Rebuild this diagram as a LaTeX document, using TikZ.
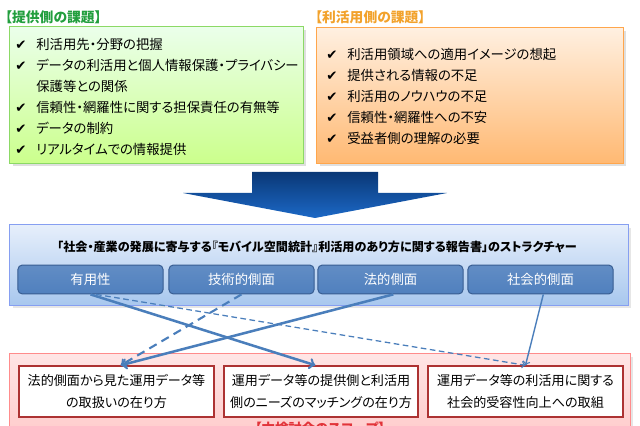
\documentclass[tikz,border=0pt]{standalone}
\usepackage{fontspec}
\newfontfamily\jp[RawFeature=+palt]{Noto Sans CJK JP}
\newfontfamily\sym{DejaVu Sans}
\usetikzlibrary{shadows}

\definecolor{provgreen}{RGB}{34,158,62}
\definecolor{useorange}{RGB}{242,162,44}
\definecolor{linkblue}{RGB}{74,126,187}
\definecolor{scopered}{RGB}{226,52,58}
\definecolor{arrowtop}{RGB}{10,56,118}
\definecolor{arrowbot}{RGB}{28,104,198}
\definecolor{panelbluetop}{RGB}{230,239,251}
\definecolor{panelbluebot}{RGB}{168,199,238}
\definecolor{aspectfill}{RGB}{80,128,190}
\definecolor{aspectline}{RGB}{55,92,145}

\newcommand{\chkmark}{{\sym\fontsize{9.5}{9.5}\selectfont ✔}\hspace{7pt}}

\begin{document}
\begin{tikzpicture}[x=0.025cm,y=-0.025cm]

\useasboundingbox (0,0) rectangle (640,426);

%Headlines
\node[anchor=west,inner sep=0pt,text=provgreen,font=\jp\bfseries\fontsize{9.8}{11}\selectfont] (provhead) at (5,17) {【提供側の課題】};
\node[anchor=west,inner sep=0pt,text=useorange,font=\jp\bfseries\fontsize{9.8}{11}\selectfont] (usehead) at (315,17) {【利活用側の課題】};

%Box of the provider side
\node[draw=green!50!olive!60,line width=0.7pt,top color=green!8!white,bottom color=green!45!yellow!45,
      minimum width=7.325cm,minimum height=3.4cm,drop shadow={opacity=0.25}] (provbox) at (156.5,95) {};
\node[anchor=north west,inner sep=0pt,align=left,font=\jp\fontsize{9.5}{14.9}\selectfont] (provlist) at (15,38)
     {\chkmark 利活用先・分野の把握\\
      \chkmark データの利活用と個人情報保護・プライバシー\\
      \phantom{\chkmark}保護等との関係\\
      \chkmark 信頼性・網羅性に関する担保責任の有無等\\
      \chkmark データの制約\\
      \chkmark リアルタイムでの情報提供};

%Box of the user side
\node[draw=orange!70,line width=0.7pt,top color=orange!12!white,bottom color=orange!55!white,
      minimum width=7.65cm,minimum height=3.375cm,drop shadow={opacity=0.25}] (usebox) at (470,95.5) {};
\node[anchor=north west,inner sep=0pt,align=left,font=\jp\fontsize{9.5}{14.9}\selectfont] (uselist) at (326,48)
     {\chkmark 利活用領域への適用イメージの想起\\
      \chkmark 提供される情報の不足\\
      \chkmark 利活用のノウハウの不足\\
      \chkmark 信頼性・網羅性への不安\\
      \chkmark 受益者側の理解の必要};

%Big arrow down
\shade[top color=arrowtop,bottom color=arrowbot] (252,172) -- (378,172) -- (378,193) -- (447,193)
      -- (315,218) -- (183,193) -- (252,193) -- cycle;

%Structure of the report
\node[draw=panelbluebot!80!blue,line width=0.7pt,top color=panelbluetop,bottom color=panelbluebot,
      minimum width=15.45cm,minimum height=2cm,drop shadow={opacity=0.2}] (report) at (319,265) {};
\node[inner sep=0pt,font=\jp\bfseries\fontsize{8.6}{10}\selectfont] (reporttitle) at (317,247)
     {「社会・産業の発展に寄与する『モバイル空間統計』利活用のあり方に関する報告書」のストラクチャー};

%Aspects
\node[draw=aspectline,line width=0.7pt,rounded corners=3pt,top color=aspectfill!90!white,bottom color=aspectfill,
      text=white,minimum width=3.625cm,minimum height=0.72cm,font=\jp\fontsize{9.5}{11}\selectfont] (useful) at (90.5,279.5) {有用性};
\node[draw=aspectline,line width=0.7pt,rounded corners=3pt,top color=aspectfill!90!white,bottom color=aspectfill,
      text=white,minimum width=3.625cm,minimum height=0.72cm,font=\jp\fontsize{9.5}{11}\selectfont] (tech) at (241.5,279.5) {技術的側面};
\node[draw=aspectline,line width=0.7pt,rounded corners=3pt,top color=aspectfill!90!white,bottom color=aspectfill,
      text=white,minimum width=3.625cm,minimum height=0.72cm,font=\jp\fontsize{9.5}{11}\selectfont] (legal) at (390.5,279.5) {法的側面};
\node[draw=aspectline,line width=0.7pt,rounded corners=3pt,top color=aspectfill!90!white,bottom color=aspectfill,
      text=white,minimum width=3.625cm,minimum height=0.72cm,font=\jp\fontsize{9.5}{11}\selectfont] (social) at (540.5,279.5) {社会的側面};

%Scope of the study group
\node[draw=red!45,line width=0.7pt,top color=red!10!white,bottom color=red!22!white,
      minimum width=15.5cm,minimum height=2.4cm,drop shadow={opacity=0.2}] (scope) at (320,402) {};
\node[inner sep=0pt,text=scopered,font=\jp\bfseries\fontsize{9.5}{11}\selectfont] (scopetitle) at (320,428) {【本検討会のスコープ】};

%Topics
\node[draw=red!60!black!80,line width=1pt,fill=white,minimum width=4.875cm,minimum height=1.275cm,
      align=center,font=\jp\fontsize{9.3}{15.6}\selectfont] (handling) at (116.5,391.5) {法的側面から見た運用データ等\\の取扱いの在り方};
\node[draw=red!60!black!80,line width=1pt,fill=white,minimum width=4.85cm,minimum height=1.275cm,
      align=center,font=\jp\fontsize{9.3}{15.6}\selectfont] (matching) at (321,391.5) {運用データ等の提供側と利活用\\側のニーズのマッチングの在り方};
\node[draw=red!60!black!80,line width=1pt,fill=white,minimum width=4.875cm,minimum height=1.275cm,
      align=center,font=\jp\fontsize{9.3}{15.6}\selectfont] (acceptance) at (525.5,391.5) {運用データ等の利活用に関する\\社会的受容性向上への取組};

%Links
\draw[->,linkblue,line width=1.8pt] (useful.south) -- ([xshift=-4]matching.north);
\draw[->,linkblue,line width=0.9pt,dash pattern=on 4pt off 2.5pt] ([xshift=4]useful.south) -- (acceptance.north);
\draw[->,linkblue,line width=1.5pt,dash pattern=on 6pt off 4pt] (tech.south) -- ([xshift=3]handling.north);
\draw[->,linkblue,line width=1.8pt] ([xshift=2]legal.south) -- ([xshift=3]handling.north);
\draw[->,linkblue,line width=1pt] ([xshift=2]social.south) -- (acceptance.north);

\end{tikzpicture}
\end{document}
